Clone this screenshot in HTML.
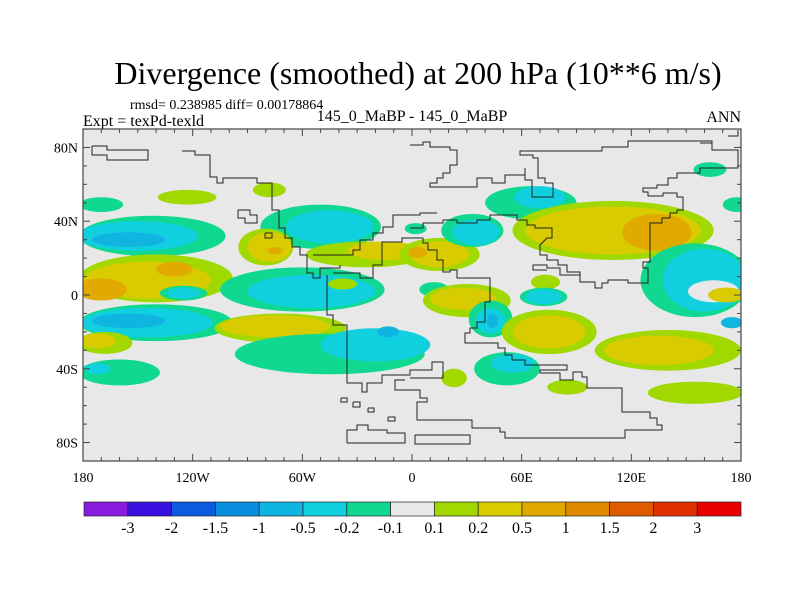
<!DOCTYPE html>
<html><head><meta charset="utf-8"><style>
body{margin:0;background:#fff;}
svg{display:block;font-family:"Liberation Serif",serif;}
</style></head><body>
<svg id="chart" width="800" height="600" viewBox="0 0 800 600">
<text x="418" y="84" font-size="32" text-anchor="middle">Divergence (smoothed) at 200 hPa (10**6 m/s)</text>
<text x="130" y="109" font-size="14">rmsd= 0.238985 diff= 0.00178864</text>
<text x="83" y="126" font-size="16">Expt = texPd-texld</text>
<text x="412" y="121" font-size="16" text-anchor="middle">145_0_MaBP - 145_0_MaBP</text>
<text x="741" y="122" font-size="16" text-anchor="end">ANN</text>
<clipPath id="mapclip"><rect x="83" y="129" width="658" height="332"/></clipPath>
<rect x="83" y="129" width="658" height="332" fill="#e8e8e8"/>
<g id="blobs" clip-path="url(#mapclip)"></g>
<g id="coast" clip-path="url(#mapclip)" fill="none" stroke="#222" stroke-width="1"></g>
<rect x="83" y="129" width="658" height="332" fill="none" stroke="#444" stroke-width="1.2"/>
<g id="ticks" stroke="#444" stroke-width="1"></g>
<g id="labels" font-size="14"></g>
<g id="cbar"></g>
</svg>
<script>
const blobLon=[-170,-123,-142,-150,-155,-140,-145,-170,-130,-125,-125,-140,-145,-155,-160,-168,-172,-160,-172,-78,-50,-45,-80,-78,-75,-25,-15,15,15,3,-60,-55,-38,-72,-75,-45,-20,-13,163,178,65,70,110,110,134,33,35,12,30,28,43,43,44,73,72,72,155,160,175,165,172,75,75,140,135,23,52,55,85,155,2];
const blobLat=[49,53,32,32,30,9,8,3,14,1,1,-15,-15,-14,-42,-26,-25,-42,-40,57,37,37,26,26,24,22,24,22,22,23,3,2,6,-18,-17,-32,-27,-20,68,49,50,53,35,35,34,35,34,3,-3,-2,-13,-14,-14,7,-1,-1,8,8,-15,2,0,-20,-20,-30,-30,-45,-40,-37,-50,-53,36];
const blobRx=[12,16,40,33,20,42,35,14,10,13,9,42,36,20,22,15,10,22,7,9,33,24,15,12,4,33,20,22,16,5,45,35,8,36,30,52,30,6,9,8,25,14,55,48,19,17,13,8,24,18,12,8,3,8,13,10,30,23,6,14,10,26,20,40,30,7,18,12,11,26,6];
const blobRy=[4,4,11,8,4,13,10,6,4,4,3,10,8,4,7,6,4,7,3,4,12,9,10,8,2,7,5,9,7,3,12,9,3,8,6,11,9,3,4,4,9,6,16,13,10,9,7,4,9,6,10,7,4,4,5,4,20,17,3,6,4,12,9,11,8,5,9,5,4,6,3];
const blobLevel=[-0.2,0.1,-0.2,-0.5,-1,0.1,0.2,0.5,0.5,-0.2,-0.5,-0.2,-0.5,-1,-0.2,0.1,0.2,-0.2,-0.5,0.1,-0.2,-0.5,0.1,0.2,0.5,0.1,0.2,0.1,0.2,0.5,-0.2,-0.5,0.1,0.1,0.2,-0.2,-0.5,-1,-0.2,-0.2,-0.2,-0.5,0.1,0.2,0.5,-0.2,-0.5,-0.2,0.1,0.2,-0.2,-0.5,-1,0.1,-0.2,-0.5,-0.2,-0.5,-1,0,0.2,0.1,0.2,0.1,0.2,0.1,-0.2,-0.5,0.1,0.1,-0.2];
const cbarLabels=["-3","-2","-1.5","-1","-0.5","-0.2","-0.1","0.1","0.2","0.5","1","1.5","2","3"];
const cbarColors=["#8a1ce0","#3a10e0","#0a5be0","#0a8fe0","#10b4e0","#10d0e0","#10d890","#e8e8e8","#a0d800","#d8cc00","#e0aa00","#e08a00","#e05a00","#e03000","#e80000"];
const latTicks=["80N","40N","0","40S","80S"];const latVals=[80,40,0,-40,-80];
const lonTicks=["180","120W","60W","0","60E","120E","180"];const lonVals=[-180,-120,-60,0,60,120,180];
const NS="http://www.w3.org/2000/svg";
const X0=83,X1=741,Y0=129,Y1=461;
const xS=lon=>X0+(lon+180)*(X1-X0)/360;
const yS=lat=>Y0+(90-lat)*(Y1-Y0)/180;
const kx=(X1-X0)/360,ky=(Y1-Y0)/180;
function levelColor(v){const m={"-1.5":2,"-1":4,"-0.5":5,"-0.2":6,"0":7,"0.1":8,"0.2":9,"0.5":10,"1":11};return cbarColors[m[String(v)]];}
const bg=document.getElementById('blobs');
for(let i=0;i<blobLon.length;i++){
 const e=document.createElementNS(NS,'ellipse');
 e.setAttribute('cx',xS(blobLon[i]));e.setAttribute('cy',yS(blobLat[i]));
 e.setAttribute('rx',blobRx[i]*kx);e.setAttribute('ry',blobRy[i]*ky);
 e.setAttribute('fill',levelColor(blobLevel[i]));
 
 
 bg.appendChild(e);
}
const coasts=[
"92,146 107,146 107,150 148,150 148,160 107,160 107,155 92,155 92,146",
"182,151 195,151 195,155 210,155 210,177 217,177 217,183 223,183 223,178 257,178 257,183 272,183 272,210 279,210 279,228 285,228 285,238 292,238 292,247 300,247 300,255 307,255 307,273 313,273 313,278 320,278 320,268 340,268 340,265",
"327,275 327,315 333,315 333,325 347,325 347,383 362,383 362,392 367,392 367,383 382,383 382,375 410,375 410,370 432,370 432,362 443,362 443,378 410,378",
"333,273 360,273 360,278 373,278 373,265 382,265 382,242 402,242 402,238 420,238",
"313,255 353,255 353,250 360,250 360,240 373,240 373,233 383,233 383,227 393,227 393,215 420,215 420,213 437,213",
"238,210 250,210 250,215 257,215 257,223 245,223 245,218 238,218 238,210",
"265,233 272,233 272,238 265,238 265,233",
"410,145 423,145 423,142 430,142 430,147 450,147 450,150 457,150 457,165 450,165 450,173 443,173 443,178 437,178 437,183 430,183 430,187 477,187 477,178 492,178 492,183 505,183 505,175 525,175 525,168 525,180 532,180 532,197 553,197 553,183 545,183 545,178 538,178 538,158 533,158 533,155 520,155 520,151 602,151 602,147 628,147 628,141 712,141 712,150 738,150 738,168 700,168 700,173 677,173 677,178 668,178 668,185 657,185 657,188 643,188 643,192 648,192 648,196 663,196 663,193 677,193 677,197 683,197 683,210 677,210 677,213 670,213 670,218 662,218 662,223 650,223 650,262 643,262 643,268 648,268 648,283 628,283 628,280 608,280 608,283 602,283 602,288 595,288 595,282 580,282 580,275 560,275 560,268 547,268 547,265 533,265 533,270 547,270",
"410,228 423,228 423,223 443,223 443,220 457,220 457,223 477,223 477,220 490,220 490,215 517,215 517,220 527,220 527,225 535,225 535,228 552,228 552,238 547,238 540,245 540,255 547,255 547,260 558,260 558,265 567,265 567,272 580,272 580,282",
"410,238 423,238 423,243 428,243 428,250 437,250 437,260 443,260 443,272 450,272 450,270 457,270 457,278 490,278 490,302 485,302 485,322 477,322 477,328 470,328 470,333 465,333 465,343 498,343 498,348 505,348 505,355 512,355 512,360 525,360 525,365 567,365 567,370 540,370 540,373 560,373 560,380 573,380 573,372 582,372 582,377 587,377 587,388 622,388 622,412 650,412 650,418 657,418 657,425 662,425 662,430 625,430 625,438 505,438 505,432 500,432 500,428 472,428 472,420 417,420 417,402 427,402 427,398 420,398 420,390 410,390 395,390 395,380 405,380",
"415,435 470,435 470,444 415,444 415,435",
"347,443 347,430 357,430 357,425 368,425 368,430 387,430 387,433 405,433 405,443 347,443",
"341,398 347,398 347,402 341,402 341,398","353,402 360,402 360,407 353,407 353,402","368,408 374,408 374,412 368,412 368,408","388,417 395,417 395,421 388,421 388,417",
"700,143 712,143","728,136 738,136 738,130"
];
const cg=document.getElementById('coast');
coasts.forEach(p=>{const l=document.createElementNS(NS,'polyline');l.setAttribute('points',p);
 
 
 cg.appendChild(l);});
const tg=document.getElementById('ticks');
function line(x1,y1,x2,y2){const l=document.createElementNS(NS,'line');l.setAttribute('x1',x1);l.setAttribute('y1',y1);l.setAttribute('x2',x2);l.setAttribute('y2',y2);
 
 
 tg.appendChild(l);}
for(let lon=-180;lon<=180;lon+=10){const L=lon%60===0?7:4;const x=xS(lon);line(x,Y0,x,Y0+L);line(x,Y1,x,Y1-L);}
for(let lat=-90;lat<=90;lat+=10){const L=lat%40===0?7:4;const y=yS(lat);line(X0,y,X0+L,y);line(X1,y,X1-L,y);}
const lg=document.getElementById('labels');
function txt(s,x,y,a,g,sz){const t=document.createElementNS(NS,'text');t.setAttribute('x',x);t.setAttribute('y',y);t.setAttribute('text-anchor',a);if(sz)t.setAttribute('font-size',sz);t.textContent=s;
 
 
 g.appendChild(t);}
latTicks.forEach((s,i)=>txt(s,X0-5,yS(latVals[i])+5,'end',lg));
lonTicks.forEach((s,i)=>txt(s,xS(lonVals[i]),482,'middle',lg));
const cb=document.getElementById('cbar');
const cx0=84,cx1=741,cw=(cx1-cx0)/cbarColors.length;
cbarColors.forEach((c,i)=>{const r=document.createElementNS(NS,'rect');r.setAttribute('x',cx0+i*cw);r.setAttribute('y',502);r.setAttribute('width',cw);r.setAttribute('height',14);r.setAttribute('fill',c);r.setAttribute('stroke','#222');r.setAttribute('stroke-width','0.7');
 
 
 cb.appendChild(r);});
cbarLabels.forEach((s,i)=>txt(s,cx0+(i+1)*cw,533,'middle',cb,16));
</script>
</body></html>
